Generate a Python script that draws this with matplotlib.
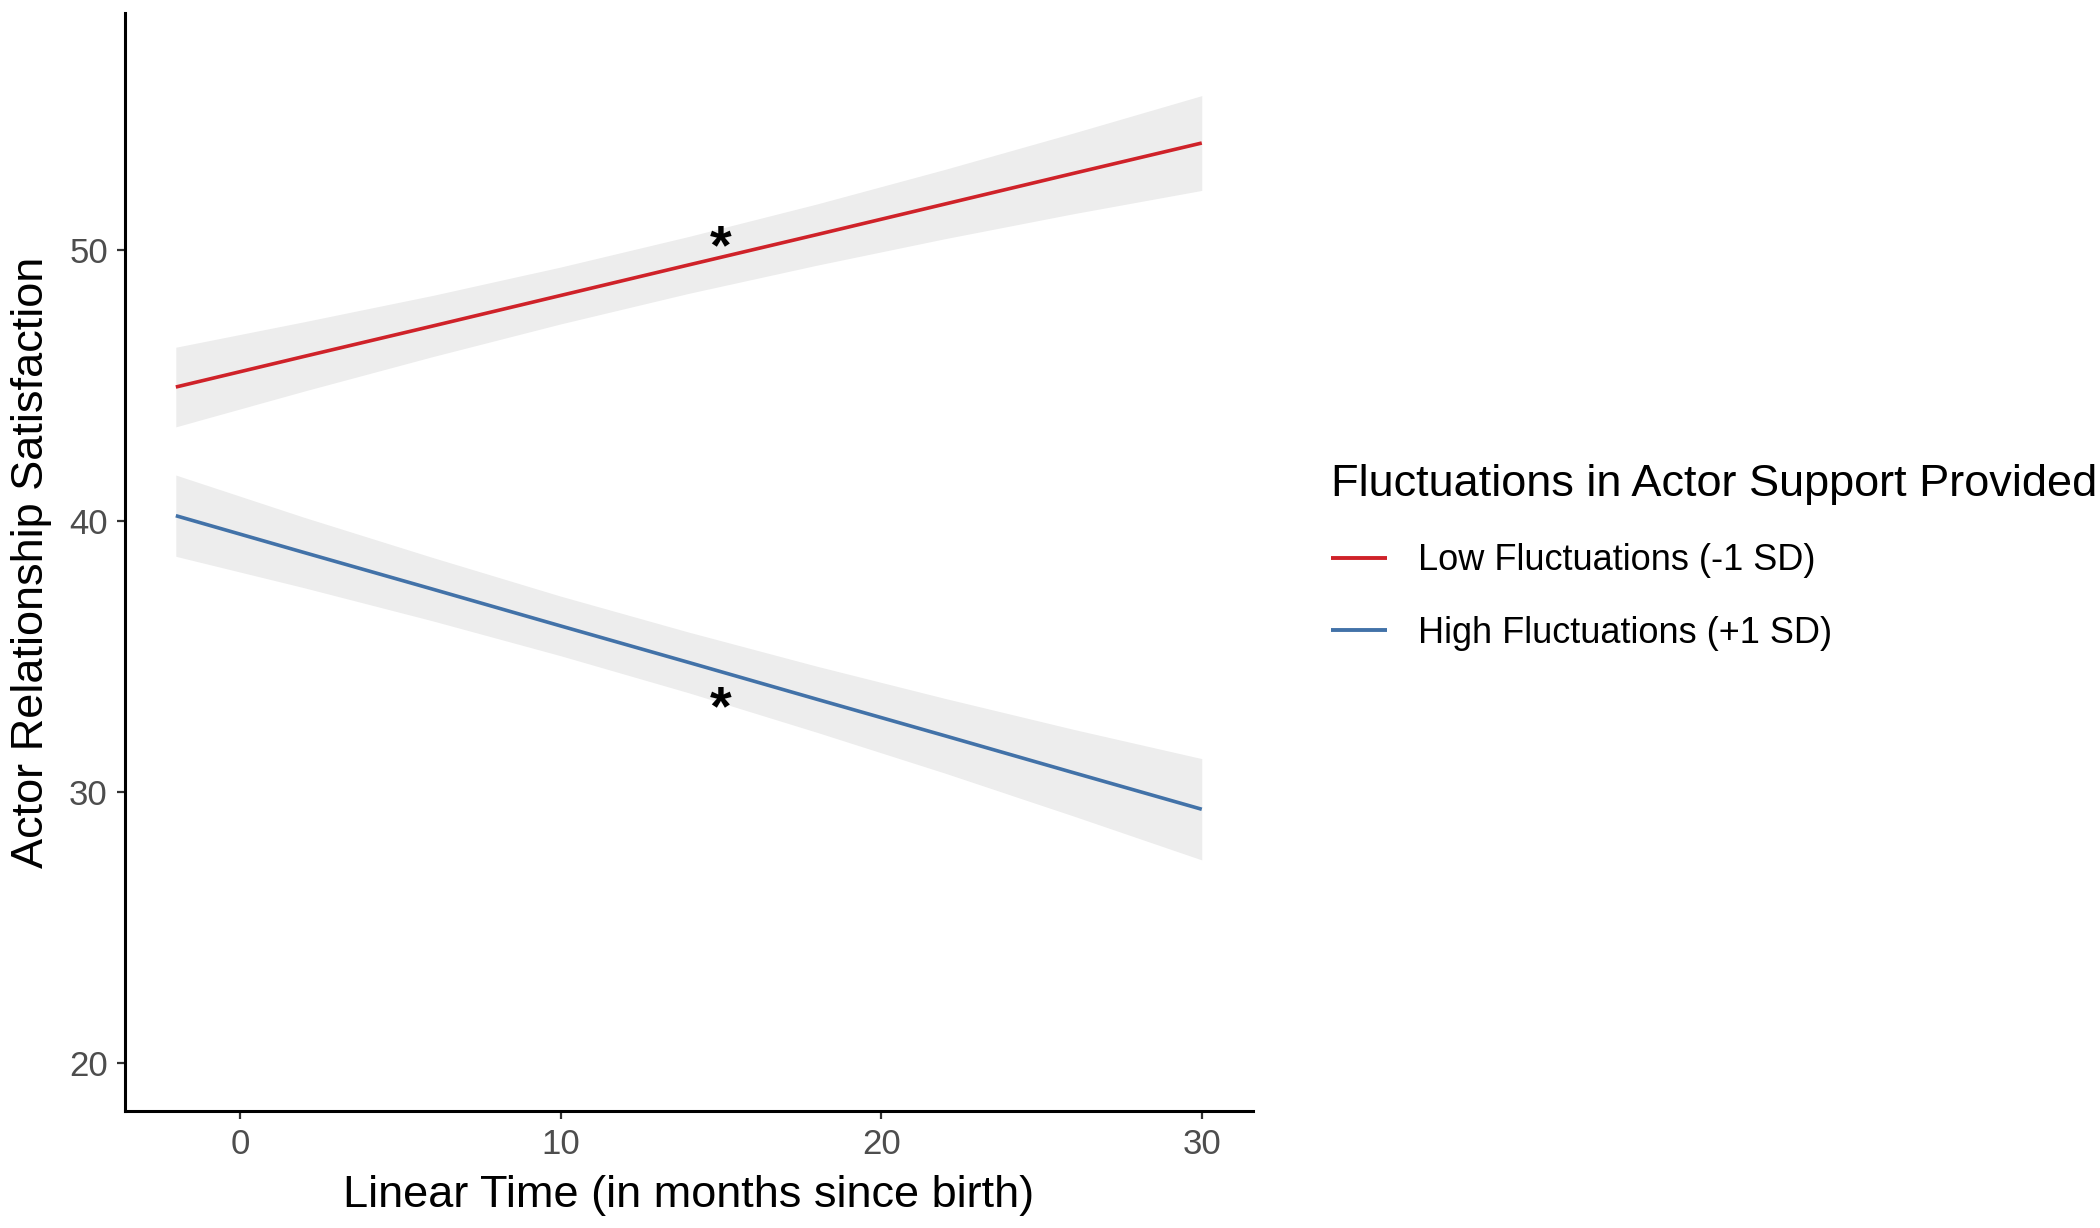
import matplotlib
matplotlib.use("Agg")
import matplotlib.pyplot as plt

plt.rcParams['font.family'] = ['Liberation Sans', 'DejaVu Sans']

# ---- data ----
time = [-2, 2, 6, 10, 14, 18, 22, 26, 30]
low_fit = [44.95, 46.08, 47.20, 48.33, 49.46, 50.58, 51.71, 52.84, 53.96]
low_lo = [43.48, 44.80, 46.07, 47.28, 48.41, 49.45, 50.43, 51.35, 52.21]
low_hi = [46.42, 47.36, 48.33, 49.38, 50.51, 51.71, 52.99, 54.33, 55.71]
high_fit = [40.20, 38.84, 37.49, 36.13, 34.78, 33.42, 32.07, 30.71, 29.36]
high_lo = [38.70, 37.54, 36.32, 35.03, 33.66, 32.20, 30.69, 29.11, 27.49]
high_hi = [41.70, 40.14, 38.66, 37.23, 35.90, 34.64, 33.45, 32.31, 31.23]

series_labels = ["Low Fluctuations (-1 SD)", "High Fluctuations (+1 SD)"]
legend_title = "Fluctuations in Actor Support Provided"
star_x = [15, 15]
star_y = [50.02, 33.0]
xticks = [0, 10, 20, 30]
yticks = [20, 30, 40, 50]

red = '#CF2229'
blue = '#4272A8'
band = '#EDEDED'

fig = plt.figure(figsize=(21, 12.28), dpi=100)
ax = fig.add_axes([0.0593, 0.0953, 0.5374, 0.8941])

ax.fill_between(time, low_lo, low_hi, color=band, lw=0, zorder=1)
ax.fill_between(time, high_lo, high_hi, color=band, lw=0, zorder=1)
ax.plot(time, low_fit, color=red, lw=2.6, label=series_labels[0], zorder=3,
        solid_capstyle='butt')
ax.plot(time, high_fit, color=blue, lw=2.6, label=series_labels[1], zorder=3,
        solid_capstyle='butt')

for sx, sy in zip(star_x, star_y):
    ax.text(sx, sy, "*", fontsize=40, ha='center', va='center', color='black',
            fontweight='bold', zorder=4)

ax.set_xlim(-3.6, 31.6)
ax.set_ylim(18.22, 58.76)
ax.set_xticks(xticks)
ax.set_yticks(yticks)

for s in ['top', 'right']:
    ax.spines[s].set_visible(False)
for s in ['left', 'bottom']:
    ax.spines[s].set_linewidth(2.2)
    ax.spines[s].set_color('black')

ax.tick_params(axis='both', length=6, width=1.6, color='#333333',
               labelsize=25, labelcolor='#4D4D4D', pad=6)

ax.set_xlabel("Linear Time (in months since birth)", fontsize=32.5, color='black',
              labelpad=10)
ax.set_ylabel("Actor Relationship Satisfaction", fontsize=32.5, color='black',
              labelpad=12)

leg = ax.legend(title=legend_title, loc='upper left',
                bbox_to_anchor=(0.621, 0.644), bbox_transform=fig.transFigure,
                frameon=False, fontsize=26, title_fontsize=32.5,
                alignment='left', handlelength=1.55, handletextpad=0.85,
                labelspacing=1.05, borderpad=0.75, borderaxespad=0)
for h in leg.get_lines():
    h.set_linewidth(2.8)

fig.savefig("out.png", dpi=100, facecolor='white')
